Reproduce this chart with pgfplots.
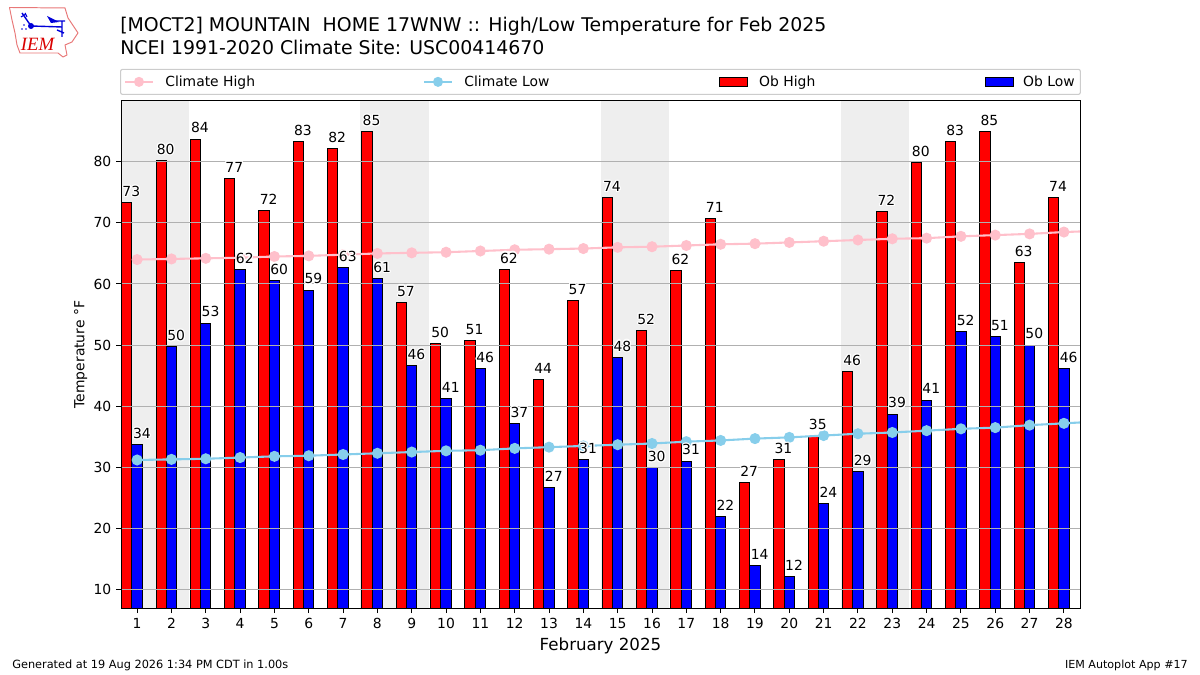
\documentclass[border=0pt]{standalone}
\usepackage{fontspec}
\setmainfont{DejaVu Sans}
\newfontfamily\logofont{Liberation Serif}
\usepackage[copies]{contour}
\usepackage{pgfplots}
\usepackage{pgfplotstable}
\pgfplotsset{compat=1.18}
\contourlength{0.8pt}
\definecolor{climhigh}{HTML}{FFC0CB}
\definecolor{climlow}{HTML}{87CEEB}
\definecolor{weekend}{HTML}{EEEEEE}
\definecolor{gridc}{HTML}{B0B0B0}
\definecolor{logored}{HTML}{E87878}

% day, observed high, observed low, and the rounded labels
\pgfplotstableread{
day high low hl ll
1 73.3 33.7 73 34
2 80.2 49.7 80 50
3 83.7 53.6 84 53
4 77.3 62.4 77 62
5 72.0 60.6 72 60
6 83.3 59.0 83 59
7 82.1 62.7 82 63
8 84.9 60.9 85 61
9 57.0 46.6 57 46
10 50.2 41.3 50 41
11 50.7 46.2 51 46
12 62.4 37.1 62 37
13 44.3 26.7 44 27
14 57.3 31.2 57 31
15 74.1 48.0 74 48
16 52.4 29.9 52 30
17 62.2 31.0 62 31
18 70.7 21.9 71 22
19 27.5 13.9 27 14
20 31.2 12.1 31 12
21 35.1 24.0 35 24
22 45.7 29.3 46 29
23 71.8 38.7 72 39
24 79.8 41.0 80 41
25 83.3 52.2 83 52
26 84.9 51.4 85 51
27 63.5 50.0 63 50
28 74.1 46.1 74 46
}\obs

\pgfplotstableread{
day chigh clow
1 64.0 31.2
2 64.1 31.3
3 64.2 31.4
4 64.3 31.6
5 64.5 31.8
6 64.6 31.9
7 64.8 32.1
8 65.0 32.3
9 65.1 32.5
10 65.2 32.7
11 65.4 32.8
12 65.6 33.1
13 65.7 33.3
14 65.8 33.5
15 66.0 33.7
16 66.1 33.9
17 66.3 34.2
18 66.5 34.4
19 66.6 34.7
20 66.8 34.9
21 67.0 35.2
22 67.2 35.5
23 67.4 35.7
24 67.5 36.0
25 67.8 36.3
26 68.0 36.5
27 68.2 36.9
28 68.5 37.2
29 68.7 37.5
}\clim

\begin{document}
\begin{tikzpicture}
\begin{axis}[
    at={(87.12pt,48.1pt)}, anchor=south west,
    scale only axis,
    width=690.5pt, height=365.2pt,
    xmin=0.53, xmax=28.47,
    ymin=6.95, ymax=89.95,
    set layers=axis on top,
    axis on top,
    clip mode=individual,
    xtick={1,...,28},
    ytick={10,20,...,80},
    tick align=outside,
    xtick pos=bottom, ytick pos=left,
    major tick length=3.5pt,
    tick style={black, line width=0.72pt},
    axis line style={line width=0.72pt},
    ymajorgrids,
    major grid style={gridc, line width=0.72pt},
    tick label style={font=\fontsize{10}{12}\selectfont},
    /pgf/number format/assume math mode=true,
    xlabel={February 2025},
    xlabel style={font=\fontsize{12}{14}\selectfont, yshift=0pt},
    ylabel={Temperature °F},
    ylabel style={font=\fontsize{10}{12}\selectfont, yshift=-2.4pt},
    legend columns=4,
    legend cell align=left,
    legend style={
        at={(0,1)}, anchor=south west, xshift=-0.7pt, yshift=4.3pt,
        draw=black!20, line width=0.8pt, rounded corners=1.5pt,
        font=\fontsize{10}{12}\selectfont,
        inner xsep=2.5pt, inner ysep=4pt,
        nodes={inner sep=0.5pt},
        /tikz/column 2/.style={column sep=0pt},
        /tikz/column 1/.style={column sep=7.7pt},
        /tikz/column 3/.style={column sep=7.7pt},
        /tikz/column 5/.style={column sep=7.7pt},
        /tikz/column 7/.style={column sep=6.3pt},
    },
]
% weekend shading
\addplot[fill=weekend, draw=none, forget plot] coordinates {(0.5,0) (2.5,0) (2.5,100) (0.5,100)};
\addplot[fill=weekend, draw=none, forget plot] coordinates {(7.5,0) (9.5,0) (9.5,100) (7.5,100)};
\addplot[fill=weekend, draw=none, forget plot] coordinates {(14.5,0) (16.5,0) (16.5,100) (14.5,100)};
\addplot[fill=weekend, draw=none, forget plot] coordinates {(21.5,0) (23.5,0) (23.5,100) (21.5,100)};

\addlegendimage{legend image code/.code={\draw[climhigh, line width=1.5pt, sharp corners] (0pt,0pt) -- (20pt,0pt); \fill[climhigh] (10pt,0pt) circle (3.2pt);}}
\addlegendentry{\makebox[185.1pt][l]{Climate High}}
\addlegendimage{legend image code/.code={\draw[climlow, line width=1.5pt, sharp corners] (0pt,0pt) -- (20pt,0pt); \fill[climlow] (10pt,0pt) circle (3.2pt);}}
\addlegendentry{\makebox[182.9pt][l]{Climate Low}}
\addlegendimage{legend image code/.code={\draw[fill=red, line width=0.72pt, sharp corners] (0pt,-3.5pt) rectangle (20pt,3.5pt);}}
\addlegendentry{\makebox[162pt][l]{Ob High}}
\addlegendimage{legend image code/.code={\draw[fill=blue, line width=0.72pt, sharp corners] (0pt,-3.5pt) rectangle (20pt,3.5pt);}}
\addlegendentry{\makebox[38.2pt][l]{Ob Low}}

% observed bars
\addplot[ybar, bar width=0.3, bar shift=-0.3, fill=red, draw=black, line width=0.72pt, forget plot] table[x=day, y=high] {\obs};
\addplot[ybar, bar width=0.3, bar shift=0, fill=blue, draw=black, line width=0.72pt, forget plot] table[x=day, y=low] {\obs};

% climatology
\addplot[climhigh, line width=1.5pt, mark=*, mark size=3.2pt, mark options={draw=none, fill=climhigh}, forget plot] table[x=day, y=chigh] {\clim};
\addplot[climlow, line width=1.5pt, mark=*, mark size=3.2pt, mark options={draw=none, fill=climlow}, forget plot] table[x=day, y=clow] {\clim};

% value labels above the grid
\addplot[draw=none, mark=none, forget plot, on layer=axis foreground,
    point meta=explicit symbolic,
    nodes near coords={\contour{white}{\pgfplotspointmeta}},
    every node near coord/.style={anchor=base, xshift=-4.2pt, yshift=4.5pt, font=\fontsize{10}{12}\selectfont, inner sep=0pt}]
    table[x=day, y=high, meta=hl] {\obs};
\addplot[draw=none, mark=none, forget plot, on layer=axis foreground,
    point meta=explicit symbolic,
    nodes near coords={\contour{white}{\pgfplotspointmeta}},
    every node near coord/.style={anchor=base, xshift=3.4pt, yshift=4.5pt, font=\fontsize{10}{12}\selectfont, inner sep=0pt}]
    table[x=day, y=low, meta=ll] {\obs};
\end{axis}

% everything below is placed in reference pixels
\begin{scope}[x=0.72pt, y=-0.72pt, yshift=486pt]
\node[anchor=base west, inner sep=0pt, font=\fontsize{13.6}{16}\selectfont] at (120,32) {[MOCT2] MOUNTAIN\ \ HOME 17WNW :: High/Low Temperature for Feb 2025};
\node[anchor=base west, inner sep=0pt, font=\fontsize{13.6}{16}\selectfont] at (120,55) {NCEI 1991-2020 Climate Site: USC00414670};
\node[anchor=base west, inner sep=0pt, font=\fontsize{8.15}{10}\selectfont] at (12,669) {Generated at 19 Aug 2026 1:34 PM CDT in 1.00s};
\node[anchor=base east, inner sep=0pt, font=\fontsize{8}{10}\selectfont] at (1188,669) {IEM Autoplot App \#17};

% IEM logo
\draw[logored, line width=0.7pt, line join=round] (9.5,7.5) -- (65,8) -- (68,18) -- (74,27) -- (78,33) -- (72,42) -- (65,45) -- (67,55) -- (63,57) -- (58,53) -- (20,53) -- (17,45) -- (15,33) -- (12,20) -- cycle;
\node[text=red!85!black, inner sep=0pt, font=\logofont\itshape\fontsize{13.5}{15}\selectfont] at (37.5,44.5) {IEM};
\draw[blue!85!black, line width=1pt] (31,26) -- (62,27) (22,13) -- (31,26) (50,21) -- (65,21) (62,22) -- (62,37) (57,30) -- (64,33);
\draw[blue!85!black, line width=0.8pt] (21,17) -- (26,14) (25,13) -- (27,17);
\fill[blue!85!black] (31,26) circle (3);
\fill[blue!85!black] (47,16) -- (59,22) -- (51,23) -- cycle;
\fill[blue!85!black] (24,25) circle (0.8) (22,29) circle (0.8) (26,29) circle (0.8);
\end{scope}

\pgfresetboundingbox
\path[use as bounding box] (0,0) rectangle (864pt,486pt);
\end{tikzpicture}
\end{document}
